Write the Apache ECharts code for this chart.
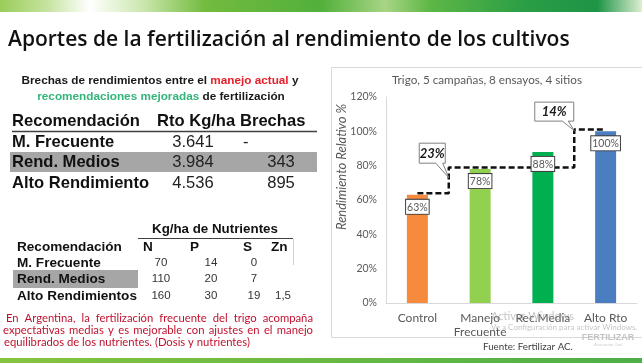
<!DOCTYPE html>
<html><head><meta charset="utf-8">
<script src="https://cdn.jsdelivr.net/npm/echarts@6/dist/echarts.min.js"></script>
<style>html,body{margin:0;padding:0;background:#fff}#c{width:642px;height:363px}</style>
</head><body><div id="c"></div>
<script>
// ---- data ----
const categories = ['Control', 'Manejo\nFrecuente', 'Rec.Media', 'Alto Rto'];
const rendimiento = [63, 78, 88, 100];
const barColors = ['#F68B3D', '#92D050', '#00B050', '#4A7EC0'];
const escalon = [64, 79, 79, 101];
const brechaLabels = ['23%', '14%'];
const yTicks = [0, 20, 40, 60, 80, 100, 120];

const t1Header = ['Recomendación', 'Rto Kg/ha', 'Brechas'];
const t1Names = ['M. Frecuente', 'Rend. Medios', 'Alto Rendimiento'];
const t1Rto = ['3.641', '3.984', '4.536'];
const t1Brechas = ['-', '343', '895'];

const t2Header = ['Recomendación', 'N', 'P', 'S', 'Zn'];
const t2Names = ['M. Frecuente', 'Rend. Medios', 'Alto Rendimientos'];
const t2N = ['70', '110', '160'];
const t2P = ['14', '20', '30'];
const t2S = ['0', '7', '19'];
const t2Zn = ['', '', '1,5'];

const parrafo = [
  'En Argentina, la fertilización frecuente del trigo acompaña',
  'expectativas medias y es mejorable con ajustes en el manejo',
  'equilibrados de los nutrientes. (Dosis y nutrientes)'
];

// ---- helpers ----
const cv = document.createElement('canvas').getContext('2d');
function tw(text, font) { cv.font = font; return cv.measureText(text).width; }
function fit(text, pre, fam, w) { return 100 * w / tw(text, pre + ' 100px ' + fam); }
const ARIAL = '"Liberation Sans", Arial, sans-serif';
const CAL = 'Lato, "Open Sans", sans-serif';
const OS = '"Open Sans", Lato, sans-serif';
function txt(text, x, y, font, fill, align, extra) {
  return Object.assign({ type: 'text', x: x, y: y, silent: true, z: 10,
    style: { text: text, font: font, fill: fill, textAlign: align || 'left', textVerticalAlign: 'middle' } }, extra || {});
}

const chart = echarts.init(document.getElementById('c'), null, { renderer: 'canvas' });
chart.setOption({
  animation: false,
  grid: { left: 386, right: 5, top: 97, bottom: 60, containLabel: false },
  xAxis: {
    type: 'category', data: categories,
    axisLine: { lineStyle: { color: '#D9D9D9', width: 1 } },
    axisTick: { show: false },
    axisLabel: { color: '#595959', fontSize: 12, fontFamily: CAL, margin: 8, lineHeight: 14, interval: 0 }
  },
  yAxis: {
    type: 'value', min: 0, max: 120, interval: 20,
    axisLine: { show: true, lineStyle: { color: '#D9D9D9' } },
    axisTick: { show: false }, splitLine: { show: false },
    axisLabel: { color: '#595959', fontSize: 10.5, fontFamily: CAL, margin: 9, formatter: v => yTicks.includes(v) ? v + '%' : '' }
  },
  series: [
    {
      type: 'line', step: 'middle', data: escalon, z: 1, symbol: 'none', silent: true,
      lineStyle: { color: '#111', width: 2.5, type: [6, 3] }
    },
    {
      type: 'bar', barWidth: 21, z: 3,
      data: rendimiento.map((v, i) => ({ value: v, itemStyle: { color: barColors[i] } })),
      label: {
        show: true, position: 'insideTop', distance: 5, formatter: '{c}%',
        color: '#595959', fontSize: 10.5, fontFamily: CAL,
        backgroundColor: '#fff', borderColor: '#404040', borderWidth: 1, padding: [2, 1, 1, 1]
      }
    }
  ]
});

// ---- graphics ----
const g = [];
// top banner
g.push({ type: 'rect', shape: { x: 0, y: 0, width: 642, height: 12 }, silent: true, z: 0,
  style: { fill: new echarts.graphic.LinearGradient(0, 0, 1, 0, [
    { offset: 0, color: '#9ACD5A' }, { offset: 0.07, color: '#C3E29B' }, { offset: 0.14, color: '#FFFFFF' },
    { offset: 0.22, color: '#CDE8B0' }, { offset: 0.32, color: '#72BB3E' }, { offset: 0.5, color: '#52B03C' },
    { offset: 0.6, color: '#A8D585' }, { offset: 0.67, color: '#5DB746' }, { offset: 0.82, color: '#2A9D45' },
    { offset: 0.93, color: '#1E9446' }, { offset: 1, color: '#DDEFD2' }]) } });
// bottom bar
g.push({ type: 'rect', shape: { x: 0, y: 358, width: 642, height: 5 }, silent: true, z: 0,
  style: { fill: new echarts.graphic.LinearGradient(0, 0, 1, 0, [
    { offset: 0, color: '#86C440' }, { offset: 1, color: '#4DAF47' }]) } });
// title
const tTitle = 'Aportes de la fertilización al rendimiento de los cultivos';
const fsT = fit(tTitle, '600', OS, 562);
g.push(txt(tTitle, 8, 40, '600 ' + fsT.toFixed(2) + 'px ' + OS, '#111'));

// chart frame
g.push({ type: 'rect', shape: { x: 331.5, y: 67.5, width: 320, height: 270 }, silent: true, z: 0,
  style: { fill: 'none', stroke: '#D9D9D9', lineWidth: 1 } });
const cTitle = 'Trigo, 5 campañas, 8 ensayos, 4 sitios';
g.push(txt(cTitle, 487, 80, 'normal ' + fit(cTitle, 'normal', CAL, 190).toFixed(2) + 'px ' + CAL, '#595959', 'center'));
const yName = 'Rendimiento Relativo %';
g.push(txt(yName, 342, 167, 'italic ' + fit(yName, 'italic', CAL, 126).toFixed(2) + 'px ' + CAL, '#595959', 'center',
  { rotation: Math.PI / 2 }));
const fuente = 'Fuente: Fertilizar AC.';
g.push(txt(fuente, 483, 347, 'normal ' + fit(fuente, 'normal', CAL, 90).toFixed(2) + 'px ' + CAL, '#404040'));
// faint logo + watermark
g.push(txt('FERTILIZAR', 608, 338, 'bold 9px ' + ARIAL, '#c4c4c4', 'center'));
g.push(txt('Asociación Civil', 608, 345, 'normal 4px ' + ARIAL, '#cccccc', 'center'));
g.push(txt('Activar Windows', 491, 316, 'normal 11px ' + CAL, 'rgba(150,150,150,0.55)', 'left', { z: 20 }));
g.push(txt('Ve a Configuración para activar Windows.', 491, 327, 'normal 8px ' + CAL, 'rgba(150,150,150,0.55)', 'left', { z: 20 }));

// callouts
function callout(label, tip, box, tailA, tailB) {
  const [bx, by, bw, bh] = box;
  const pts = [[bx, by], [bx + bw, by], [bx + bw, by + bh], [tailB, by + bh], tip, [tailA, by + bh], [bx, by + bh]];
  g.push({ type: 'polygon', shape: { points: pts }, silent: true, z: 15,
    style: { fill: '#fff', stroke: '#7F7F7F', lineWidth: 1 } });
  g.push(txt(label, bx + bw / 2, by + bh / 2 + 0.5, 'italic bold 13px ' + CAL, '#1a1a1a', 'center', { z: 16 }));
}
const p0 = chart.convertToPixel({ seriesIndex: 1 }, [0, 73]);
const p1 = chart.convertToPixel({ seriesIndex: 1 }, [1, 73]);
const tipA = [(p0[0] + p1[0]) / 2, p0[1]];
callout(brechaLabels[0], tipA, [tipA[0] - 29.5, tipA[1] - 34.5, 26, 20], tipA[0] - 13, tipA[0] - 6);
const q2 = chart.convertToPixel({ seriesIndex: 1 }, [2, escalon[3]]);
const q3 = chart.convertToPixel({ seriesIndex: 1 }, [3, escalon[3]]);
const tipB = [(q2[0] + q3[0]) / 2, q2[1] + 1];
callout(brechaLabels[1], tipB, [tipB[0] - 39.5, tipB[1] - 28.5, 39, 19], tipB[0] - 12, tipB[0] - 6);

// subtitle
const s1a = 'Brechas de rendimientos entre el ', s1b = 'manejo actual', s1c = ' y';
const fsS = fit(s1a + s1b + s1c, 'bold', ARIAL, 277);
const fS = 'bold ' + fsS.toFixed(2) + 'px ' + ARIAL;
let x0 = 160 - tw(s1a + s1b + s1c, fS) / 2;
g.push(txt(s1a, x0, 81, fS, '#1a1a1a'));
g.push(txt(s1b, x0 + tw(s1a, fS), 81, fS, '#E8202A'));
g.push(txt(s1c, x0 + tw(s1a + s1b, fS), 81, fS, '#1a1a1a'));
const s2a = 'recomendaciones mejoradas', s2b = ' de fertilización';
x0 = 161 - tw(s2a + s2b, fS) / 2;
g.push(txt(s2a, x0, 97, fS, '#33B57A'));
g.push(txt(s2b, x0 + tw(s2a, fS), 97, fS, '#1a1a1a'));

// table 1
const f1 = fit('Recomendación', 'bold', ARIAL, 128);
const F1b = 'bold ' + f1.toFixed(2) + 'px ' + ARIAL, F1n = 'normal ' + f1.toFixed(2) + 'px ' + ARIAL;
g.push({ type: 'rect', shape: { x: 10, y: 152, width: 307, height: 20 }, silent: true, z: 1, style: { fill: '#A6A6A6' } });
g.push({ type: 'line', shape: { x1: 12, y1: 131.5, x2: 317, y2: 131.5 }, silent: true, z: 2, style: { stroke: '#404040', lineWidth: 1.5 } });
g.push(txt(t1Header[0], 12, 121, F1b, '#111'));
g.push(txt(t1Header[1], 157, 121, F1b, '#111'));
g.push(txt(t1Header[2], 240, 121, F1b, '#111'));
const r1y = [142, 162, 183];
t1Names.forEach((n, i) => {
  g.push(txt(n, 12, r1y[i], F1b, '#111'));
  g.push(txt(t1Rto[i], 193, r1y[i], F1n, '#222', 'center'));
  g.push(txt(t1Brechas[i], i === 0 ? 243 : 281, r1y[i], F1n, '#222', i === 0 ? 'left' : 'center'));
});

// table 2
const f2t = fit('Kg/ha de Nutrientes', 'bold', ARIAL, 126);
g.push(txt('Kg/ha de Nutrientes', 152, 229, 'bold ' + f2t.toFixed(2) + 'px ' + ARIAL, '#111'));
g.push({ type: 'line', shape: { x1: 138, y1: 238.5, x2: 293, y2: 238.5 }, silent: true, z: 2, style: { stroke: '#404040', lineWidth: 1.2 } });
g.push({ type: 'line', shape: { x1: 293.5, y1: 239, x2: 293.5, y2: 265 }, silent: true, z: 2, style: { stroke: '#d0d0d0', lineWidth: 1 } });
g.push({ type: 'rect', shape: { x: 13, y: 270, width: 125, height: 18 }, silent: true, z: 1, style: { fill: '#A6A6A6' } });
const f2 = fit('Recomendación', 'bold', ARIAL, 105);
const F2b = 'bold ' + f2.toFixed(2) + 'px ' + ARIAL;
const F2n = 'normal 11.5px ' + ARIAL;
g.push(txt(t2Header[0], 17, 247, F2b, '#111'));
g.push(txt(t2Header[1], 143, 247, F2b, '#111'));
g.push(txt(t2Header[2], 190, 247, F2b, '#111'));
g.push(txt(t2Header[3], 243, 247, F2b, '#111'));
g.push(txt(t2Header[4], 271, 247, F2b, '#111'));
const r2y = [263, 279, 296];
t2Names.forEach((n, i) => {
  g.push(txt(n, 17, r2y[i], F2b, '#111'));
  g.push(txt(t2N[i], 161, r2y[i], F2n, '#333', 'center'));
  g.push(txt(t2P[i], 211, r2y[i], F2n, '#333', 'center'));
  g.push(txt(t2S[i], 254, r2y[i], F2n, '#333', 'center'));
  if (t2Zn[i]) g.push(txt(t2Zn[i], 283, r2y[i], F2n, '#333', 'center'));
});

// justified paragraph
const fsP = fit(parrafo[2], 'normal', CAL, 246);
const FP = 'normal ' + fsP.toFixed(2) + 'px ' + CAL;
const py = [318, 330, 342];
parrafo.forEach((line, i) => {
  const words = line.split(' ');
  if (i === 2) { g.push(txt(line, 4, py[i], FP, '#C0122E')); return; }
  const x1 = i === 0 ? 6 : 3, x2 = 313;
  const total = words.reduce((s, w) => s + tw(w, FP), 0);
  const gap = (x2 - x1 - total) / (words.length - 1);
  let x = x1;
  words.forEach(w => { g.push(txt(w, x, py[i], FP, '#C0122E')); x += tw(w, FP) + gap; });
});

chart.setOption({ graphic: g });
</script></body></html>
